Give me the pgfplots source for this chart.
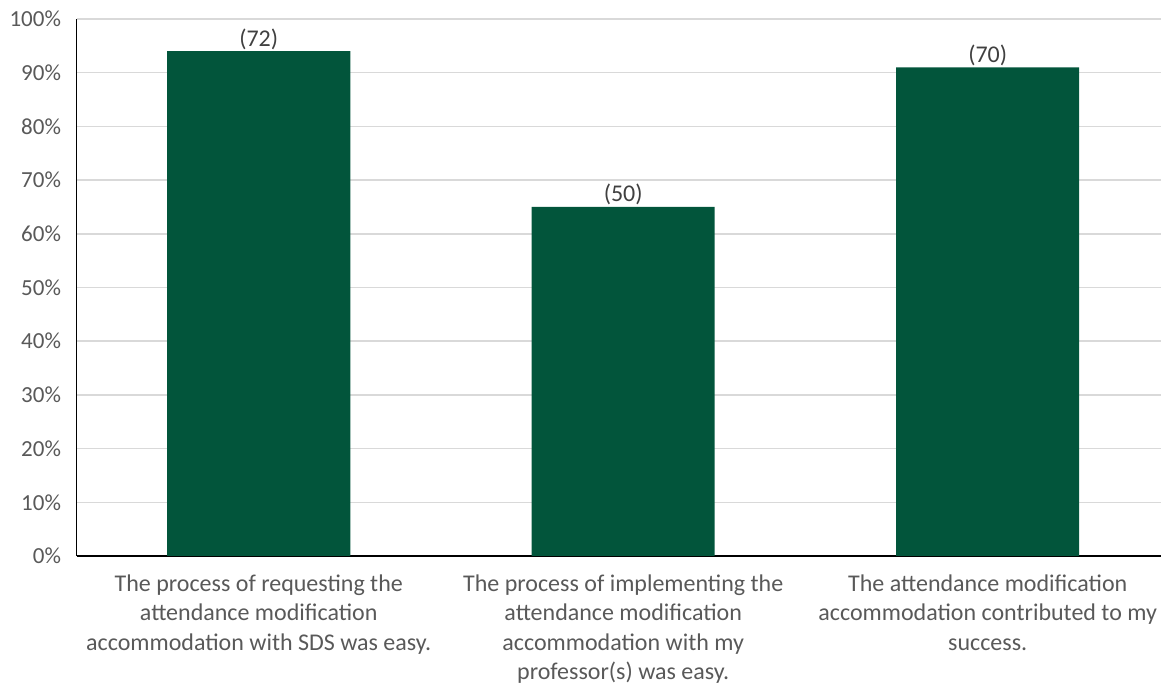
\documentclass[border=0pt]{standalone}
\usepackage{pgfplots}
\pgfplotsset{compat=1.18}
\usepackage{fontspec}
\setmainfont{Carlito}
\definecolor{bargreen}{HTML}{02553B}
\definecolor{txt}{HTML}{595959}
\definecolor{lbl}{HTML}{404040}
\definecolor{gridc}{HTML}{D9D9D9}
\begin{document}
\begin{tikzpicture}
\path[use as bounding box] (0,0) rectangle (1161bp,686bp);
\clip (0,0) rectangle (1161bp,686bp);
\begin{axis}[
 at={(76.5bp,130bp)}, anchor=south west, scale only axis,
 width=1093.5bp, height=537bp,
 xmin=-0.5, xmax=2.5, ymin=0, ymax=100,
 axis x line=bottom, axis y line=left,
 axis line style={-, black, line width=1.5bp},
 major tick length=0pt,
 ytick={0,10,...,100},
 yticklabels={0\%,10\%,20\%,30\%,40\%,50\%,60\%,70\%,80\%,90\%,100\%},
 ymajorgrids, grid style={gridc, line width=1.5bp},
 xtick={0,1,2},
 xticklabels={{The process of requesting the\\attendance modification\\accommodation with SDS was easy.},
   {The process of implementing the\\attendance modification\\accommodation with my\\professor(s) was easy.},
   {The attendance modification\\accommodation contributed to my\\success.}},
 xticklabel style={font=\fontsize{24bp}{29.5bp}\selectfont, text=txt, align=center, anchor=north, yshift=-15bp},
 yticklabel style={font=\fontsize{23bp}{28bp}\selectfont, text=txt, anchor=east, xshift=-12bp},
 ybar, bar width=183bp,
 nodes near coords, point meta=explicit symbolic,
 every node near coord/.append style={font=\fontsize{24bp}{28bp}\selectfont, text=lbl, inner sep=1.5bp},
]
\addplot[fill=bargreen, draw=none] coordinates {(0,94) [(72)] (1,65) [(50)] (2,91) [(70)]};
\end{axis}
\end{tikzpicture}
\end{document}
